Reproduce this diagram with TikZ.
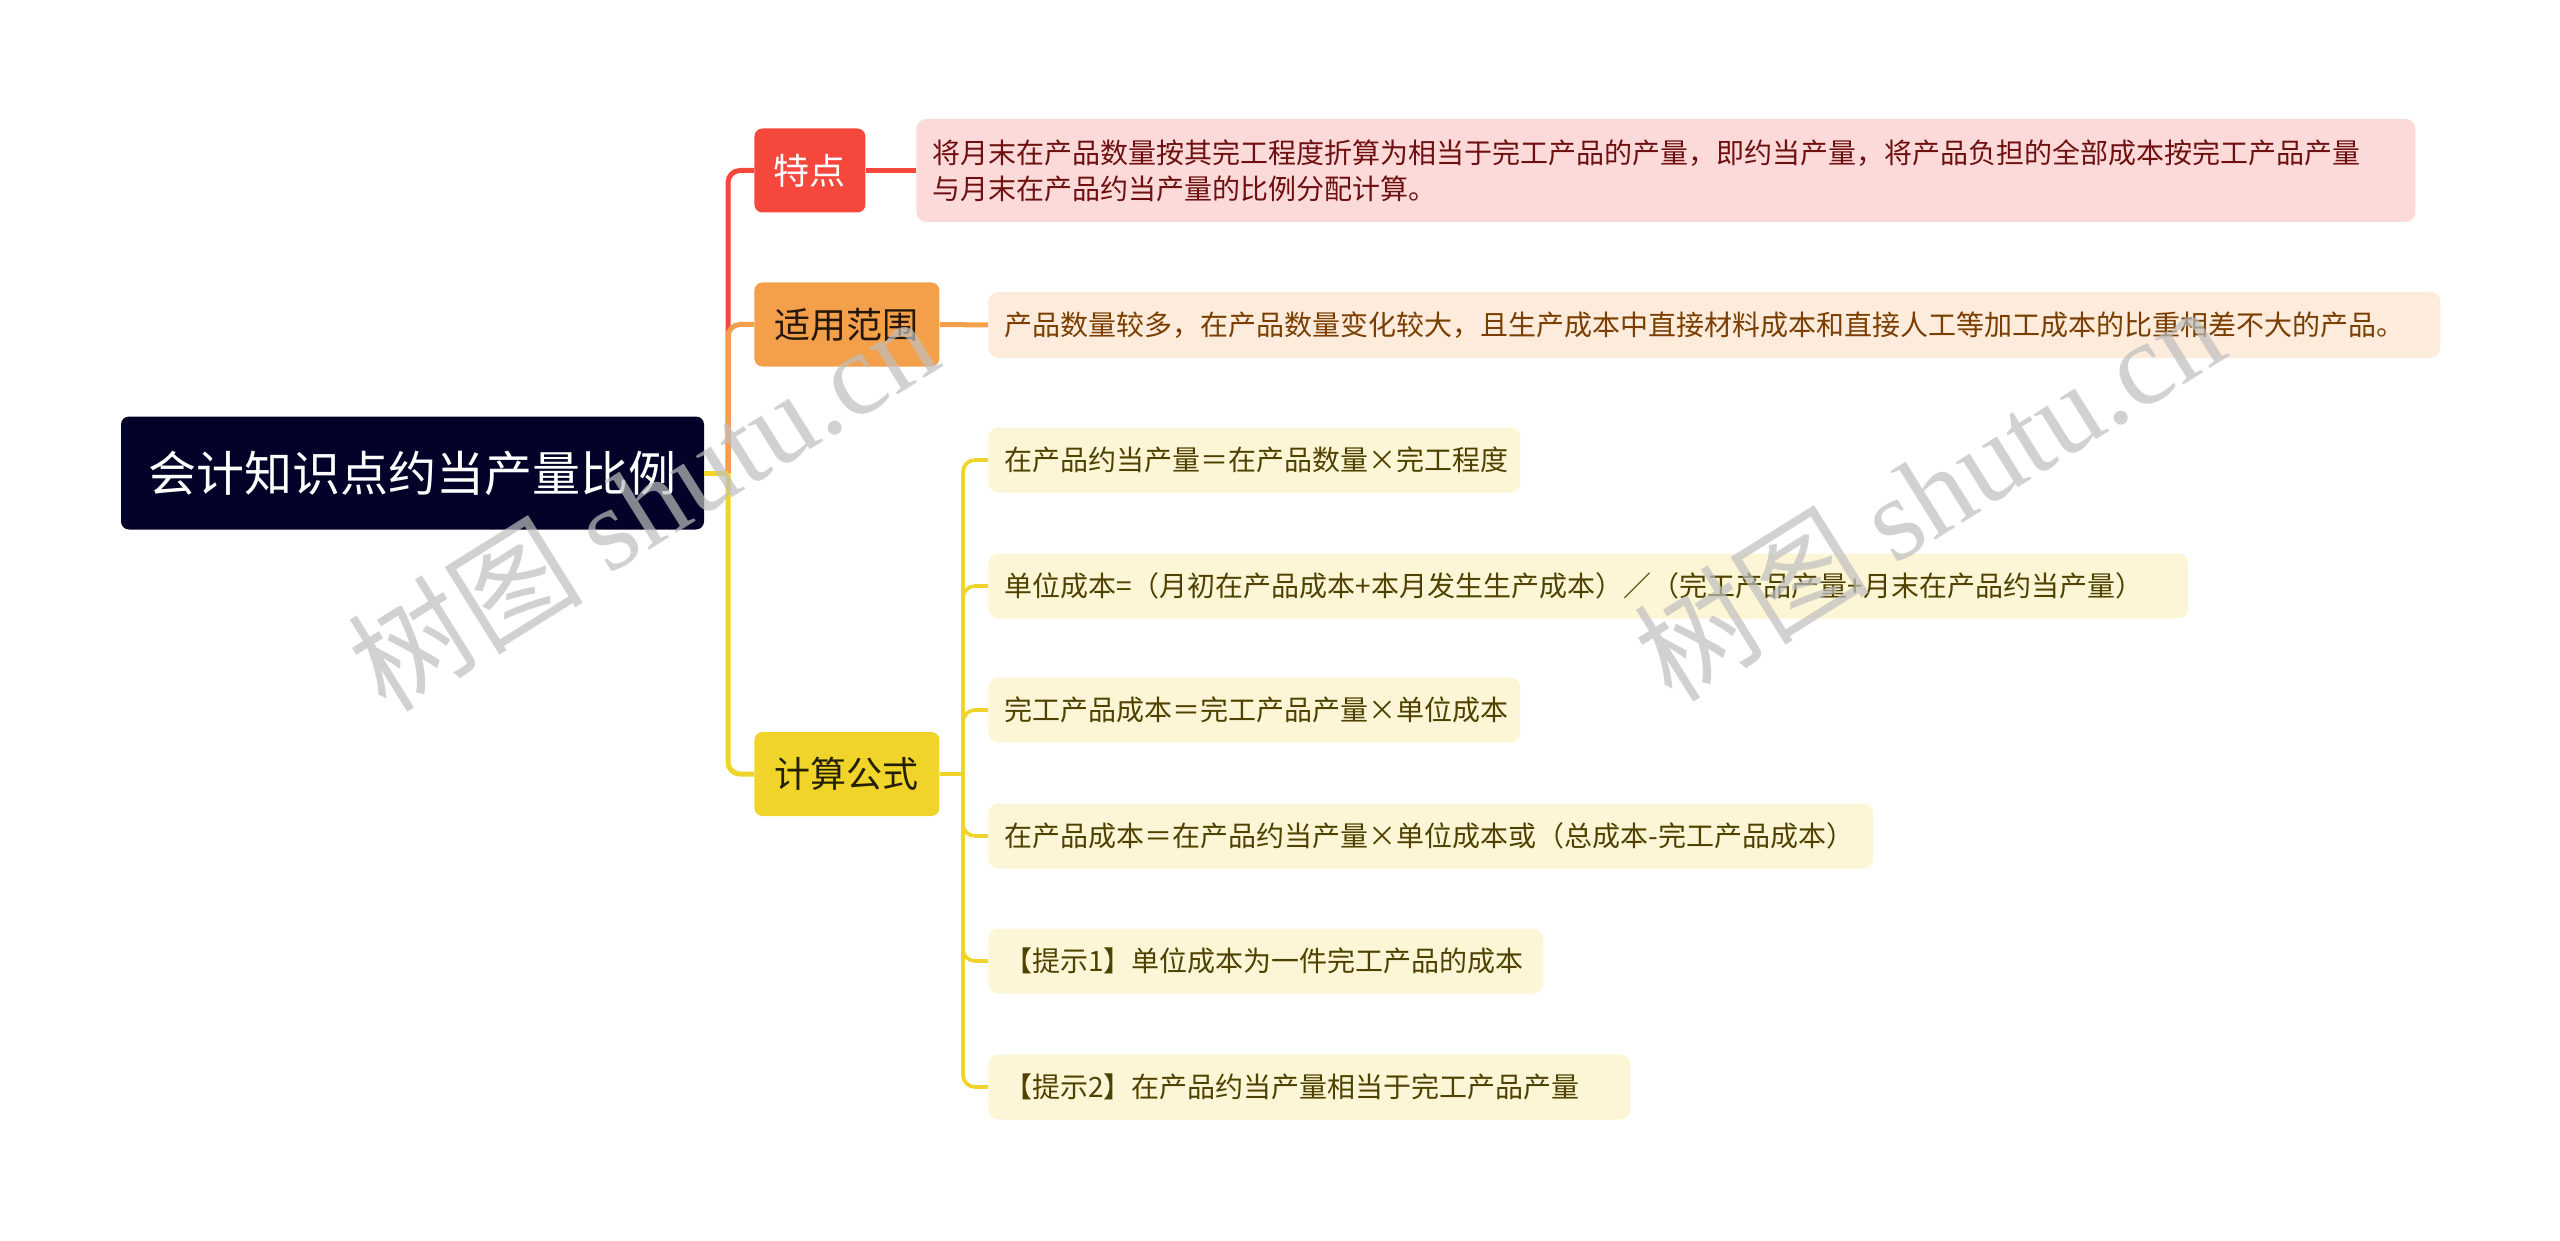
\documentclass[tikz,border=0pt]{standalone}
\usepackage{fontspec}
\setmainfont{Noto Sans CJK SC}
\newfontfamily\wmlatin{Liberation Serif}
\usetikzlibrary{positioning}
\definecolor{rootfill}{HTML}{03032A}
\definecolor{cred}{HTML}{F5473B}
\definecolor{credbox}{HTML}{FDDADA}
\definecolor{credtext}{HTML}{6E1010}
\definecolor{corange}{HTML}{F4A04A}
\definecolor{corangebox}{HTML}{FDEBDC}
\definecolor{corangetext}{HTML}{7A3E00}
\definecolor{cyellow}{HTML}{F0D42A}
\definecolor{cyellowbox}{HTML}{FDF6D6}
\definecolor{cyellowtext}{HTML}{4F4200}
\definecolor{wmgray}{HTML}{BEBEBE}
\tikzset{
  rootbox/.style={draw=none, fill=rootfill, rounded corners=4pt, text=white, font=\fontsize{24}{28}\selectfont, minimum width=291.5pt, minimum height=56.5pt, inner sep=0pt},
  topic/.style={draw=none, rounded corners=4pt, font=\fontsize{18}{22}\selectfont, minimum height=42pt, inner sep=0pt, anchor=west},
  leaf/.style={draw=none, rounded corners=5pt, font=\fontsize{14}{18}\selectfont, align=left, anchor=west, inner xsep=8pt, inner ysep=0pt},
  conn/.style={line width=2.5pt, rounded corners=6pt},
  subconn/.style={line width=1.8pt, rounded corners=6pt, draw=cyellow},
  wm/.style={text=wmgray, opacity=0.7, rotate=32, font=\fontsize{59}{64}\selectfont},
}
\begin{document}
\begin{tikzpicture}[x=1pt,y=-1pt]
\useasboundingbox (0,0) rectangle (1280,620.5);
% root
\node[rootbox] (root) at (206.25,236.5) {会计知识点约当产量比例};
% topics
\node[topic, fill=cred, text=white, minimum width=55.5pt] (tedian) at (377,85.25) {特点};
\node[topic, fill=corange, text=black!85!corange, minimum width=92.5pt] (fanwei) at (377,162.25) {适用范围};
\node[topic, fill=cyellow, text=black!85!cyellow, minimum width=92.5pt] (gongshi) at (377,387) {计算公式};
% leaves
\node[leaf, fill=credbox, text=credtext, text width=733.5pt, minimum height=51.5pt] (t1) at (458,85.25) {将月末在产品数量按其完工程度折算为相当于完工产品的产量，即约当产量，将产品负担的全部成本按完工产品产量\\与月末在产品约当产量的比例分配计算。};
\node[leaf, fill=corangebox, text=corangetext, text width=710pt, minimum height=33pt] (f1) at (494,162.5) {产品数量较多，在产品数量变化较大，且生产成本中直接材料成本和直接人工等加工成本的比重相差不大的产品。};
\node[leaf, fill=cyellowbox, text=cyellowtext, text width=250pt, minimum height=32.5pt] (g1) at (494,230) {在产品约当产量＝在产品数量×完工程度};
\node[leaf, fill=cyellowbox, text=cyellowtext, text width=584pt, minimum height=32.5pt] (g2) at (494,293) {单位成本=（月初在产品成本+本月发生生产成本）／（完工产品产量+月末在产品约当产量）};
\node[leaf, fill=cyellowbox, text=cyellowtext, text width=250pt, minimum height=32.5pt] (g3) at (494,355) {完工产品成本＝完工产品产量×单位成本};
\node[leaf, fill=cyellowbox, text=cyellowtext, text width=426.5pt, minimum height=32.5pt] (g4) at (494,418) {在产品成本＝在产品约当产量×单位成本或（总成本-完工产品成本）};
\node[leaf, fill=cyellowbox, text=cyellowtext, text width=261.5pt, minimum height=32.5pt] (g5) at (494,480.5) {【提示1】单位成本为一件完工产品的成本};
\node[leaf, fill=cyellowbox, text=cyellowtext, text width=305pt, minimum height=32.5pt] (g6) at (494,543.5) {【提示2】在产品约当产量相当于完工产品产量};
% junctions
\coordinate (j1) at (364,236.5);
\coordinate (j2) at (481.5,387);
% main connectors
\draw[conn, draw=cred] (j1) |- (tedian.west);
\draw[conn, draw=corange] (j1) |- (fanwei.west);
\draw[conn, draw=cyellow] (j1) |- (gongshi.west);
\draw[conn, draw=cyellow, rounded corners=0pt] (root.east) -- (j1);
\draw[line width=2.5pt, draw=cred] (tedian.east) -- (t1.west);
\draw[line width=2.5pt, draw=corange] (fanwei.east) -- (f1.west);
% sub connectors
\draw[subconn, rounded corners=0pt] (gongshi.east) -- (j2);
\foreach \n in {g1,g2,g3,g4,g5,g6} {
  \draw[subconn] (j2) |- (\n.west);
}
% watermarks (on top, as in the reference)
\node[wm] (wm1) at (321,251) {树图 {\wmlatin shutu.cn}};
\node[wm] (wm2) at (964,246) {树图 {\wmlatin shutu.cn}};
\end{tikzpicture}
\end{document}
